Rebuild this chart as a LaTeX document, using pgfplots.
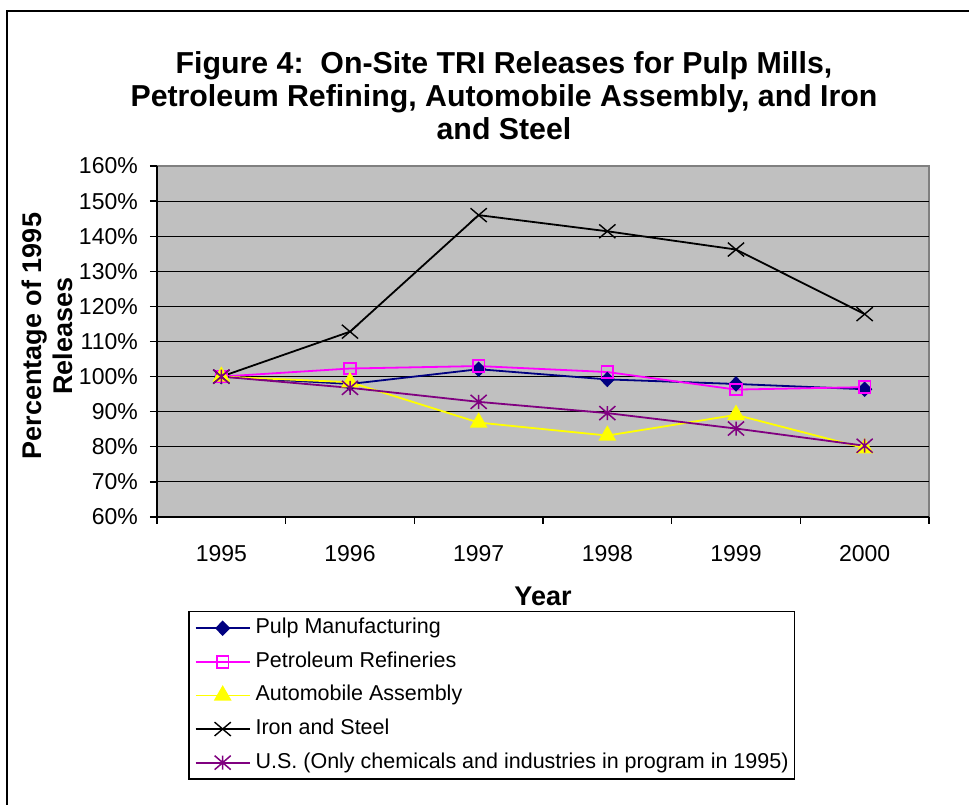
\documentclass[border=0pt]{standalone}
\usepackage{fontspec}
\setmainfont{Liberation Sans}
\usepackage{pgfplots}
\pgfplotsset{compat=1.18}
\definecolor{plotbg}{HTML}{C0C0C0}
\definecolor{framegray}{HTML}{808080}
\definecolor{navyc}{HTML}{000080}
\definecolor{magentac}{HTML}{FF00FF}
\definecolor{yellowc}{HTML}{FFFF00}
\definecolor{purplec}{HTML}{800080}
\pgfdeclareplotmark{excelstar}{%
  \pgfpathmoveto{\pgfqpoint{0pt}{-\pgfplotmarksize}}%
  \pgfpathlineto{\pgfqpoint{0pt}{\pgfplotmarksize}}%
  \pgfpathmoveto{\pgfqpoint{-\pgfplotmarksize}{-\pgfplotmarksize}}%
  \pgfpathlineto{\pgfqpoint{\pgfplotmarksize}{\pgfplotmarksize}}%
  \pgfpathmoveto{\pgfqpoint{-\pgfplotmarksize}{\pgfplotmarksize}}%
  \pgfpathlineto{\pgfqpoint{\pgfplotmarksize}{-\pgfplotmarksize}}%
  \pgfusepathqstroke}
\begin{document}
\begin{tikzpicture}[x=1pt,y=1pt]
\useasboundingbox (0,0) rectangle (969,805);
\draw[line width=1.5pt] (7,-2) -- (7,794) -- (971,794);
\begin{scope}[font=\bfseries\fontsize{30.3}{35}\selectfont]
\node[anchor=base] at (504,731) {Figure 4:\ \ On-Site TRI Releases for Pulp Mills,};
\node[anchor=base] at (504,698) {Petroleum Refining, Automobile Assembly, and Iron};
\node[anchor=base] at (504,665) {and Steel};
\end{scope}
\begin{scope}[font=\bfseries\fontsize{27}{31}\selectfont]
\node[anchor=base, rotate=90] at (41,469) {Percentage of 1995};
\node[anchor=base, rotate=90] at (72,469) {Releases};
\node[anchor=base] at (543,199) {Year};
\end{scope}
\begin{axis}[
  at={(157pt,288pt)}, anchor=south west,
  width=772pt, height=351pt, scale only axis,
  xmin=-0.5, xmax=5.5, ymin=60, ymax=160,
  clip=false,
  axis x line*=bottom, axis y line*=left,
  axis line style={black, line width=1.5pt, -},
  axis background/.style={fill=plotbg, draw=framegray, line width=1.5pt},
  xtick={-0.5,0.5,...,5.5}, xticklabels={,,,,,,},
  extra x ticks={0,1,2,3,4,5},
  extra x tick labels={1995,1996,1997,1998,1999,2000},
  extra x tick style={major tick length=0pt, grid=none},
  ytick={70,80,...,150},
  yticklabels={70\%,80\%,90\%,100\%,110\%,120\%,130\%,140\%,150\%},
  extra y ticks={60,160}, extra y tick labels={60\%,160\%},
  extra y tick style={grid=none},
  ymajorgrids, xmajorgrids=false,
  major grid style={black, line width=1pt},
  tick align=outside, major tick length=7pt,
  tick style={black, line width=1.3pt},
  tick label style={font=\fontsize{23}{27}\selectfont, black},
  xticklabel style={anchor=base, yshift=-45pt},
  yticklabel style={anchor=east, inner sep=0pt, xshift=-12pt},
  legend style={at={(0.0402,-0.2678)}, anchor=north west,
    font=\fontsize{21.5}{25}\selectfont, draw=black, line width=1.5pt, fill=white,
    inner xsep=6pt, inner ysep=6pt, row sep=12.6pt, column sep=5pt,
    nodes={inner sep=0pt, text height=16pt, text depth=5pt}},
  legend cell align=left,
  legend image code/.code={\draw[mark repeat=2,mark phase=2,#1] plot coordinates {(0pt,0pt) (27pt,0pt) (54pt,0pt)};},
]
\addplot[navyc, line width=1.8pt, mark=diamond*, mark size=6.5pt, mark options={solid, fill=navyc, xscale=1.3}]
  coordinates {(0,100) (1,97.9) (2,102.1) (3,99.2) (4,97.9) (5,96.4)};
\addlegendentry{Pulp Manufacturing}
\addplot[magentac, line width=1.8pt, mark=square, mark size=5.8pt, mark options={solid, line width=1.8pt}]
  coordinates {(0,100) (1,102.3) (2,103.0) (3,101.3) (4,96.3) (5,97.0)};
\addlegendentry{Petroleum Refineries}
\addplot[yellowc, line width=1.8pt, mark=triangle*, mark size=8.5pt, mark options={solid, fill=yellowc}]
  coordinates {(0,100) (1,98.4) (2,86.9) (3,83.2) (4,89.1) (5,79.6)};
\addlegendentry{Automobile Assembly}
\addplot[black, line width=1.8pt, mark=x, mark size=11.5pt, mark options={solid, line width=1.4pt, yscale=0.85}]
  coordinates {(0,100) (1,112.8) (2,146.0) (3,141.4) (4,136.2) (5,117.8)};
\addlegendentry{Iron and Steel}
\addplot[purplec, line width=1.8pt, mark=excelstar, mark size=7pt, mark options={solid, line width=1.5pt, xscale=1.15}]
  coordinates {(0,100) (1,96.8) (2,92.8) (3,89.6) (4,85.2) (5,80.3)};
\addlegendentry{U.S. (Only chemicals and industries in program in 1995)}
\end{axis}
\end{tikzpicture}
\end{document}
